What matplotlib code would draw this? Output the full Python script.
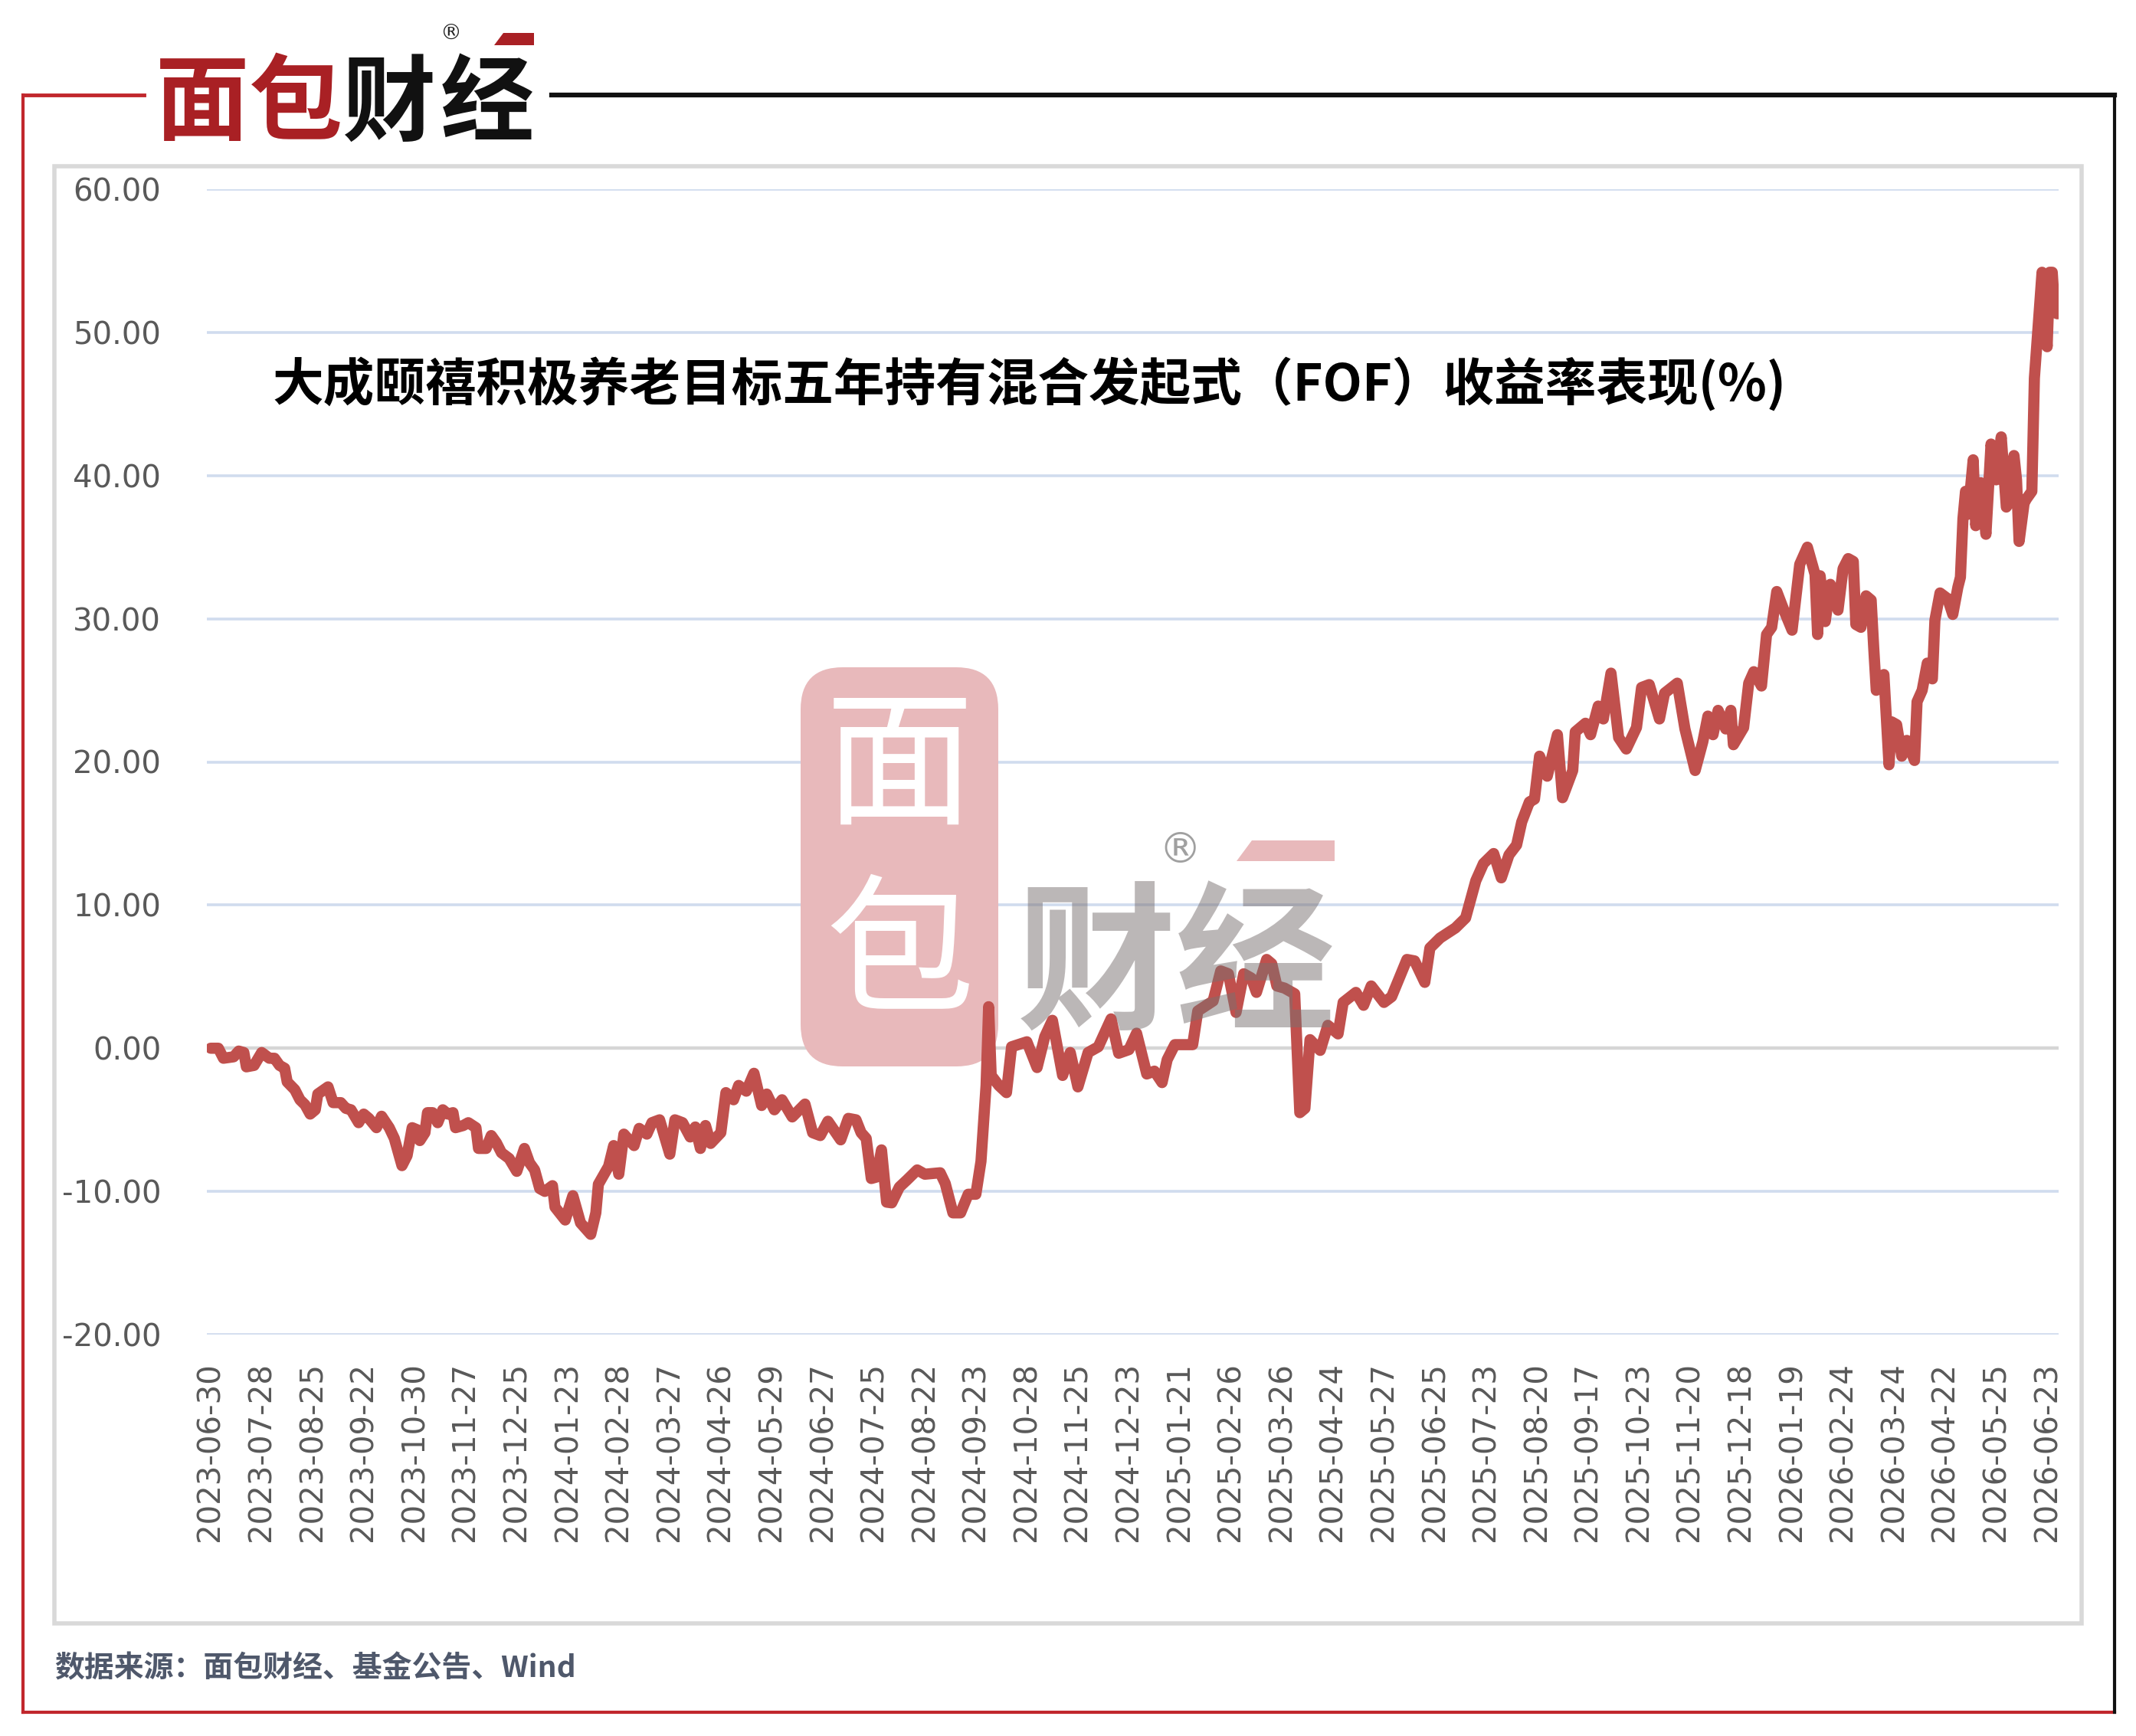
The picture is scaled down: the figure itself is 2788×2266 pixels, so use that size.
import matplotlib.pyplot as plt
import matplotlib.patches as patches
from matplotlib.lines import Line2D
from matplotlib.transforms import IdentityTransform
import numpy as np

# --- 画布尺寸（像素） ---
W, H = 2788, 2266
CJK = ['Noto Sans CJK SC', 'DejaVu Sans']

# --- 数据 ---
# 横轴刻度：每20个交易日一个日期
tick_step = 20
tick_labels = [
    '2023-06-30', '2023-07-28', '2023-08-25', '2023-09-22', '2023-10-30',
    '2023-11-27', '2023-12-25', '2024-01-23', '2024-02-28', '2024-03-27',
    '2024-04-26', '2024-05-29', '2024-06-27', '2024-07-25', '2024-08-22',
    '2024-09-23', '2024-10-28', '2024-11-25', '2024-12-23', '2025-01-21',
    '2025-02-26', '2025-03-26', '2025-04-24', '2025-05-27', '2025-06-25',
    '2025-07-23', '2025-08-20', '2025-09-17', '2025-10-23', '2025-11-20',
    '2025-12-18', '2026-01-19', '2026-02-24', '2026-03-24', '2026-04-22',
    '2026-05-25', '2026-06-23',
]

# 交易日序号（自2023-06-30起）
day_idx = [
    0, 3, 5, 9, 11, 13, 14, 17, 20, 23, 25, 27, 29, 30, 33, 35, 37, 39, 41, 42,
    46, 48, 51, 53, 55, 58, 60, 62, 65, 67, 70, 72, 75, 77, 79, 81, 82, 84, 85, 87,
    89, 91, 93, 95, 96, 99, 101, 104, 105, 108, 110, 112, 114, 117, 120, 123, 125, 127, 129, 131,
    134, 135, 139, 142, 145, 149, 151, 152, 156, 158, 160, 162, 166, 168, 171, 173, 176, 180, 182, 185,
    188, 190, 192, 194, 196, 200, 202, 205, 207, 210, 213, 216, 218, 221, 224, 228, 233, 236, 239, 242,
    247, 250, 253, 255, 257, 259, 261, 263, 265, 267, 270, 273, 277, 280, 286, 288, 291, 294, 297, 300,
    302, 304, 305, 306, 309, 312, 314, 320, 324, 327, 330, 334, 337, 340, 344, 348, 353, 356, 360, 363,
    367, 370, 373, 375, 378, 385, 387, 393, 396, 399, 402, 405, 408, 410, 414, 416, 418, 421, 425, 427,
    429, 431, 435, 438, 442, 444, 449, 452, 455, 460, 463, 469, 472, 476, 478, 482, 488, 492, 496, 499,
    503, 506, 509, 512, 514, 517, 519, 521, 524, 528, 530, 534, 535, 539, 541, 544, 546, 549, 552, 555,
    559, 561, 564, 568, 570, 575, 578, 582, 585, 587, 589, 591, 594, 596, 597, 601, 603, 605, 608, 610,
    612, 614, 617, 620, 623, 626, 629, 630, 631, 633, 635, 638, 640, 642, 644, 645, 647, 649, 651, 652,
    653, 656, 658, 659, 661, 663, 665, 668, 669, 671, 673, 675, 676, 678, 681, 683, 685, 686, 687, 688,
    689, 691, 692, 694, 696, 698, 700, 702, 704, 705, 707, 708, 709, 711, 712, 714, 715, 717, 718, 720,
    721, 722, 723, 724,
]

# 收益率(%)
ret_pct = [
    0.0, 0.0, -0.7, -0.6, -0.2, -0.3, -1.3, -1.2, -0.3, -0.7, -0.7, -1.2, -1.4, -2.35, -2.9, -3.6, -3.95, -4.6, -4.3, -3.2,
    -2.7, -3.8, -3.8, -4.2, -4.3, -5.2, -4.6, -4.9, -5.55, -4.75, -5.55, -6.3, -8.2, -7.5, -5.55, -5.7, -6.45, -5.9, -4.5, -4.5,
    -5.2, -4.3, -4.6, -4.5, -5.55, -5.4, -5.2, -5.55, -7.0, -7.0, -6.1, -6.6, -7.3, -7.7, -8.6, -7.0, -8.0, -8.5, -9.8, -10.0,
    -9.6, -11.1, -12.0, -10.3, -12.2, -13.0, -11.5, -9.5, -8.25, -6.8, -8.8, -6.0, -6.8, -5.6, -6.0, -5.2, -5.0, -7.4, -5.0, -5.2,
    -6.2, -5.5, -7.0, -5.4, -6.65, -5.9, -3.1, -3.6, -2.6, -3.0, -1.75, -4.0, -3.2, -4.3, -3.6, -4.8, -3.9, -5.9, -6.1, -5.1,
    -6.4, -4.9, -5.0, -5.9, -6.3, -9.1, -9.0, -7.1, -10.75, -10.8, -9.7, -9.2, -8.5, -8.8, -8.7, -9.45, -11.5, -11.5, -10.2, -10.2,
    -7.9, -2.6, 2.9, -1.9, -2.6, -3.1, 0.1, 0.45, -1.35, 0.8, 1.95, -1.9, -0.3, -2.7, -0.3, 0.1, 2.05, -0.35, -0.1, 1.05,
    -1.8, -1.6, -2.4, -0.8, 0.25, 0.25, 2.6, 3.3, 5.4, 5.2, 2.5, 5.2, 4.9, 3.9, 6.2, 5.9, 4.35, 4.2, 3.8, -4.5,
    -4.2, 0.6, -0.15, 1.6, 1.0, 3.2, 3.9, 3.0, 4.35, 3.2, 3.6, 6.2, 6.1, 4.6, 7.0, 7.7, 8.4, 9.1, 11.7, 12.9,
    13.6, 11.9, 13.5, 14.2, 15.8, 17.2, 17.4, 20.4, 19.0, 21.9, 17.5, 19.4, 22.1, 22.7, 21.9, 23.9, 23.0, 26.2, 21.7, 20.9,
    22.4, 25.2, 25.4, 23.0, 24.8, 25.5, 22.3, 19.4, 21.4, 23.2, 21.9, 23.6, 22.3, 23.6, 21.2, 22.4, 25.5, 26.3, 25.3, 28.9,
    29.4, 31.9, 30.5, 29.2, 33.8, 35.0, 33.1, 28.9, 33.0, 29.8, 32.4, 30.6, 33.5, 34.2, 34.0, 29.6, 29.4, 31.6, 31.3, 28.0,
    25.0, 26.1, 19.8, 22.8, 22.6, 20.4, 21.5, 20.1, 24.2, 25.0, 26.9, 25.8, 29.9, 31.8, 31.4, 30.3, 32.2, 32.9, 37.0, 38.9,
    37.3, 41.1, 36.5, 39.5, 35.9, 42.2, 39.7, 42.7, 37.8, 38.1, 41.4, 39.7, 35.4, 38.1, 38.4, 38.9, 46.8, 51.7, 54.2, 49.0,
    54.2, 54.2, 51.4, 51.3,
]

y_ticks = [-20, -10, 0, 10, 20, 30, 40, 50, 60]

title = '大成颐禧积极养老目标五年持有混合发起式（FOF）收益率表现(%)'
source = '数据来源：面包财经、基金公告、Wind'

RED_FRAME = '#c1272d'
LOGO_RED = '#a92024'
LINE_RED = '#c0504d'
PINK = '#e8b9bb'

ID = IdentityTransform()


def P(x, y):
    """参考图像素坐标（左上为原点）-> 显示坐标"""
    return (x, H - y)


def fig_line(x0, y0, x1, y1, color, lw):
    fig.add_artist(Line2D([x0, x1], [H - y0, H - y1], color=color, lw=lw,
                          transform=ID, solid_capstyle='projecting'))


fig = plt.figure(figsize=(W / 100, H / 100), dpi=100)
fig.patch.set_facecolor('white')

# --- 外框 ---
fig_line(30, 124, 30, 2235, RED_FRAME, 3)
fig_line(30, 2235, 2760, 2235, RED_FRAME, 3)
fig_line(30, 124, 188, 124, RED_FRAME, 3.5)
fig_line(720, 124, 2760, 124, '#111111', 4.5)
fig_line(2760, 124, 2760, 2235, '#111111', 3)

# --- 图表区灰框 ---
fig.add_artist(patches.Rectangle(P(71, 2119), 2717 - 71, 2119 - 217, fill=False,
                                 ec='#d9d9d9', lw=4, transform=ID, zorder=-1))

# --- 顶部 logo ---
for ch, cx, col in [('面', 264, LOGO_RED), ('包', 386, LOGO_RED),
                    ('财', 508, '#111111'), ('经', 636, '#111111')]:
    fig.text(*P(cx, 138), ch, transform=ID, ha='center', va='center',
             fontsize=88, fontweight='bold', color=col, family=CJK)
fig.text(*P(588, 44), '®', transform=ID, ha='center', va='center',
         fontsize=20, color='#222222', family=['DejaVu Sans'])
fig.add_artist(patches.Polygon([P(645, 59), P(657, 43), P(697, 43), P(697, 59)],
                               closed=True, fc=LOGO_RED, ec='none', transform=ID))

# --- 坐标轴 ---
x_left, x_right = 270, 2687
y_top, y_bot = 247, 1742
ax = fig.add_axes([x_left / W, 1 - y_bot / H, (x_right - x_left) / W, (y_bot - y_top) / H])
ax.patch.set_visible(False)

ax.plot(day_idx, ret_pct, color=LINE_RED, lw=10.5, solid_joinstyle='round',
        solid_capstyle='round', zorder=3)

ax.set_xlim(-1.5, 724.5)
ax.set_ylim(-20, 60)
for s in ax.spines.values():
    s.set_visible(False)

ax.set_yticks(y_ticks)
ax.set_yticklabels([f'{v:.2f}' for v in y_ticks])
ax.set_xticks(np.arange(len(tick_labels)) * tick_step)
ax.set_xticklabels(tick_labels, rotation=90, va='top', ha='center')
ax.tick_params(axis='both', length=0, labelsize=29, labelcolor='#595959')
ax.tick_params(axis='y', pad=43)
ax.tick_params(axis='x', pad=26)

ax.grid(axis='y', color='#d0dcee', lw=2.6, zorder=0)
ax.set_axisbelow(True)
ax.axhline(0, color='#d6d6d6', lw=3.2, zorder=1)

# --- 水印 ---
ax.add_patch(patches.FancyBboxPatch(P(1045, 1392), 258, 1392 - 871,
                                    boxstyle='round,pad=0,rounding_size=55',
                                    fc=PINK, ec='none', transform=ID, zorder=1, clip_on=False))
ax.text(*P(1174, 1006), '面', transform=ID, ha='center', va='center', fontsize=140,
        color='white', family=CJK, zorder=1.5, clip_on=False)
ax.text(*P(1174, 1250), '包', transform=ID, ha='center', va='center', fontsize=140,
        color='white', family=CJK, zorder=1.5, clip_on=False)
ax.text(*P(1535, 1266), '财经', transform=ID, ha='center', va='center', fontsize=150,
        fontweight='bold', color='#797070', alpha=0.5, family=CJK, zorder=4, clip_on=False)
ax.text(*P(1540, 1111), '®', transform=ID, ha='center', va='center', fontsize=40,
        color='#a0a0a0', family=['DejaVu Sans'], zorder=4, clip_on=False)
ax.add_patch(patches.Polygon([P(1614, 1124), P(1634, 1097), P(1742, 1097), P(1742, 1124)],
                             closed=True, fc=PINK, ec='none', transform=ID, zorder=1, clip_on=False))

# --- 标题与来源 ---
fig.text(*P(356, 501), title, transform=ID, ha='left', va='center', fontsize=48,
         fontweight='bold', color='black', family=CJK)
fig.text(*P(71, 2178), source, transform=ID, ha='left', va='center', fontsize=28,
         fontweight='bold', color='#4f586b', family=CJK)

fig.savefig('out.png', dpi=100, facecolor='white')
